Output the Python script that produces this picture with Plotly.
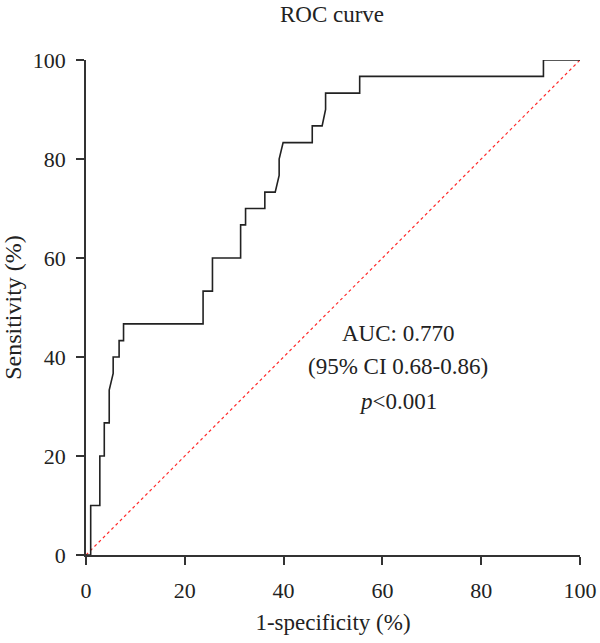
import plotly.graph_objects as go

# ROC curve vertices (1-specificity %, sensitivity %)
fpr = [0, 0.95, 0.95, 2.8, 2.8, 3.7, 3.7, 4.7, 4.7, 5.5, 5.5, 6.7, 6.7, 7.6, 7.6,
       23.7, 23.7, 25.6, 25.6, 31.3, 31.3, 32.3, 32.3, 36.2, 36.2, 38.3, 39.1, 39.1,
       39.9, 45.8, 45.8, 47.8, 48.5, 48.5, 55.4, 55.4, 92.6, 92.6, 100]
tpr = [0, 0, 10, 10, 20, 20, 26.7, 26.7, 33.3, 36.7, 40, 40, 43.3, 43.3, 46.7,
       46.7, 53.3, 53.3, 60, 60, 66.7, 66.7, 70, 70, 73.3, 73.3, 76.7, 80,
       83.3, 83.3, 86.7, 86.7, 90, 93.3, 93.3, 96.7, 96.7, 100, 100]
ref_x = [0, 100]
ref_y = [0, 100]
tick_vals = [0, 20, 40, 60, 80, 100]
annot_lines = ["AUC: 0.770", "(95% CI 0.68-0.86)", "<i>p</i><0.001"]
annot_x = 63.2
annot_y = [44.8, 38.0, 31.1]

FONT = "Liberation Serif"
TXT = "#222222"

fig = go.Figure()
fig.add_trace(go.Scatter(x=ref_x, y=ref_y, mode="lines",
                         line=dict(color="#ff2a2a", width=1.2, dash="dot"),
                         hoverinfo="skip", showlegend=False))
fig.add_trace(go.Scatter(x=fpr, y=tpr, mode="lines",
                         line=dict(color="#222222", width=1.6),
                         showlegend=False, cliponaxis=False))

for txt, yy in zip(annot_lines, annot_y):
    fig.add_annotation(x=annot_x, y=yy, xref="x", yref="y", text=txt,
                       showarrow=False, yanchor="middle", xanchor="center",
                       font=dict(family=FONT, size=23, color=TXT))

axis_common = dict(range=[0, 100], tickvals=tick_vals, showgrid=False, zeroline=False,
                   showline=True, linecolor="#333333", linewidth=1.5,
                   ticks="outside", ticklen=8, tickwidth=1.5, tickcolor="#333333",
                   automargin=False,
                   tickfont=dict(family=FONT, size=22, color=TXT))

fig.update_layout(
    width=600, height=643,
    margin=dict(l=86, r=20, t=60, b=88),
    plot_bgcolor="white", paper_bgcolor="white",
    title=dict(text="ROC curve", x=332 / 600, xanchor="center",
               y=1 - 14 / 643, yanchor="middle", yref="container",
               font=dict(family=FONT, size=23, color=TXT)),
    xaxis=dict(**axis_common, ticklabelstandoff=7,
               title=dict(text="1-specificity (%)", standoff=12,
                          font=dict(family=FONT, size=23, color=TXT))),
    yaxis=dict(**axis_common, ticklabelstandoff=6,
               title=dict(text="Sensitivity (%)", standoff=10,
                          font=dict(family=FONT, size=24, color=TXT))),
)

fig.write_html("out.html")
